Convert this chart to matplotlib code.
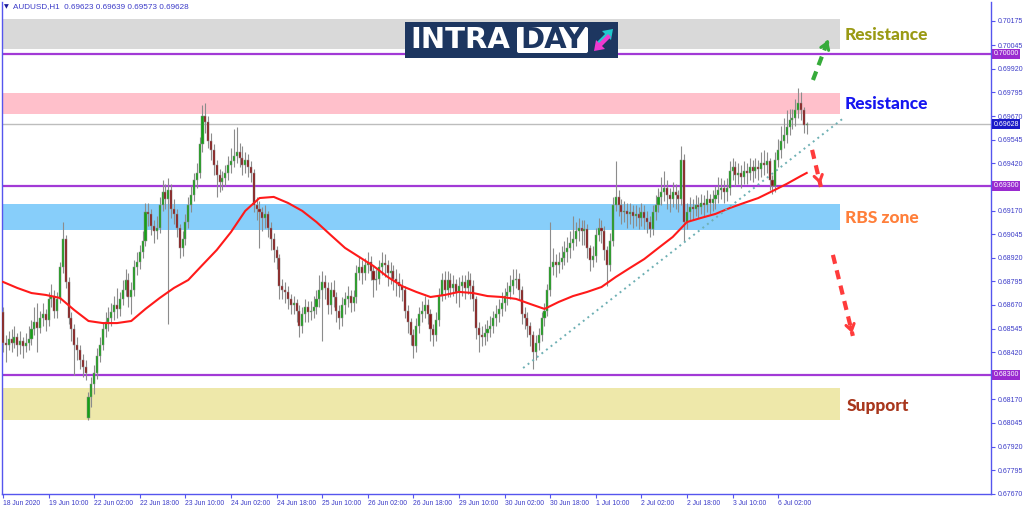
import matplotlib
matplotlib.use('Agg')
import matplotlib.pyplot as plt
from matplotlib.patches import Rectangle, FancyBboxPatch, Polygon
import numpy as np

# ---------------- data ----------------
closes = [
0.6847, 0.6846, 0.6849, 0.6847, 0.6850, 0.6846, 0.6848, 0.6845, 0.6847, 0.6849,
0.6854, 0.6858, 0.6855, 0.6860, 0.6862, 0.6859, 0.6870, 0.6872, 0.6864, 0.6870,
0.6887, 0.6902, 0.6879, 0.6860, 0.6854, 0.6846, 0.6843, 0.6838, 0.6834, 0.6831,
0.6818, 0.6825, 0.6831, 0.6840, 0.6846, 0.6854, 0.6858, 0.6860, 0.6863, 0.6867,
0.6865, 0.6870, 0.6875, 0.6880, 0.6871, 0.6875, 0.6887, 0.6890, 0.6895, 0.6901,
0.6916, 0.6915, 0.6909, 0.6906, 0.6908, 0.6920, 0.6927, 0.6923, 0.6928, 0.6918,
0.6915, 0.6908, 0.6897, 0.6902, 0.6911, 0.6920, 0.6925, 0.6933, 0.6937, 0.6952,
0.6967, 0.6964, 0.6954, 0.6949, 0.6941, 0.6936, 0.6932, 0.6934, 0.6937, 0.6941,
0.6943, 0.6946, 0.6948, 0.6945, 0.6941, 0.6944, 0.6940, 0.6937, 0.6920, 0.6918,
0.6916, 0.6913, 0.6915, 0.6908, 0.6902, 0.6896, 0.6892, 0.6877, 0.6875, 0.6874,
0.6870, 0.6867, 0.6868, 0.6864, 0.6856, 0.6862, 0.6866, 0.6863, 0.6864, 0.6866,
0.6870, 0.6875, 0.6879, 0.6876, 0.6867, 0.6875, 0.6871, 0.6864, 0.6860, 0.6867,
0.6870, 0.6872, 0.6868, 0.6871, 0.6884, 0.6887, 0.6884, 0.6888, 0.6890, 0.6885,
0.6880, 0.6881, 0.6887, 0.6889, 0.6888, 0.6884, 0.6885, 0.6881, 0.6879, 0.6877,
0.6875, 0.6864, 0.6858, 0.6851, 0.6845, 0.6856, 0.6862, 0.6864, 0.6867, 0.6862,
0.6854, 0.6851, 0.6859, 0.6872, 0.6880, 0.6875, 0.6880, 0.6876, 0.6878, 0.6874,
0.6877, 0.6879, 0.6876, 0.6880, 0.6877, 0.6870, 0.6855, 0.6851, 0.6850, 0.6852,
0.6854, 0.6856, 0.6860, 0.6862, 0.6865, 0.6868, 0.6872, 0.6874, 0.6877, 0.6880,
0.6881, 0.6875, 0.6862, 0.6860, 0.6856, 0.6851, 0.6842, 0.6847, 0.6851, 0.6860,
0.6864, 0.6875, 0.6887, 0.6890, 0.6888, 0.6890, 0.6892, 0.6895, 0.6897, 0.6900,
0.6902, 0.6906, 0.6908, 0.6906, 0.6907, 0.6897, 0.6891, 0.6893, 0.6904, 0.6908,
0.6906, 0.6896, 0.6888, 0.6901, 0.6920, 0.6924, 0.6920, 0.6916, 0.6917, 0.6915,
0.6916, 0.6914, 0.6915, 0.6913, 0.6916, 0.6913, 0.6911, 0.6907, 0.6916, 0.6920,
0.6924, 0.6927, 0.6929, 0.6925, 0.6923, 0.6927, 0.6925, 0.6923, 0.6944, 0.6911,
0.6916, 0.6919, 0.6918, 0.6920, 0.6919, 0.6921, 0.6920, 0.6923, 0.6921, 0.6923,
0.6925, 0.6928, 0.6929, 0.6927, 0.6929, 0.6938, 0.6940, 0.6936, 0.6937, 0.6935,
0.6938, 0.6937, 0.6940, 0.6938, 0.6940, 0.6939, 0.6942, 0.6941, 0.6943, 0.6933,
0.6930, 0.6944, 0.6949, 0.6954, 0.6957, 0.6961, 0.6965, 0.6966, 0.6970, 0.6974,
0.6970, 0.69623, 0.69628]

highs = [
0.6866, 0.6851, 0.6853, 0.6854, 0.6856, 0.6852, 0.6853, 0.6850, 0.6852, 0.6856,
0.6859, 0.6866, 0.6868, 0.6864, 0.6868, 0.6865, 0.6874, 0.6878, 0.6875, 0.6874,
0.6890, 0.6911, 0.6904, 0.6882, 0.6863, 0.6857, 0.6850, 0.6846, 0.6841, 0.6838,
0.6821, 0.6829, 0.6835, 0.6844, 0.6850, 0.6858, 0.6863, 0.6866, 0.6868, 0.6872,
0.6876, 0.6874, 0.6880, 0.6886, 0.6884, 0.6879, 0.6891, 0.6895, 0.6899, 0.6906,
0.6921, 0.6921, 0.6918, 0.6912, 0.6914, 0.6924, 0.6933, 0.6931, 0.6934, 0.6931,
0.6923, 0.6918, 0.6910, 0.6906, 0.6915, 0.6924, 0.6930, 0.6937, 0.6942, 0.6956,
0.6973, 0.6974, 0.6967, 0.6958, 0.6952, 0.6944, 0.6939, 0.6938, 0.6941, 0.6946,
0.6950, 0.6960, 0.6961, 0.6953, 0.6951, 0.6948, 0.6947, 0.6943, 0.6939, 0.6924,
0.6922, 0.6919, 0.6920, 0.6917, 0.6911, 0.6905, 0.6898, 0.6894, 0.6881, 0.6879,
0.6877, 0.6873, 0.6872, 0.6870, 0.6867, 0.6866, 0.6870, 0.6869, 0.6869, 0.6872,
0.6875, 0.6883, 0.6885, 0.6883, 0.6879, 0.6879, 0.6880, 0.6874, 0.6867, 0.6871,
0.6874, 0.6877, 0.6875, 0.6875, 0.6888, 0.6893, 0.6891, 0.6892, 0.6895, 0.6893,
0.6888, 0.6886, 0.6891, 0.6895, 0.6894, 0.6891, 0.6890, 0.6888, 0.6886, 0.6884,
0.6881, 0.6877, 0.6867, 0.6860, 0.6854, 0.6860, 0.6866, 0.6869, 0.6872, 0.6870,
0.6865, 0.6857, 0.6863, 0.6876, 0.6884, 0.6885, 0.6885, 0.6884, 0.6883, 0.6881,
0.6882, 0.6883, 0.6883, 0.6885, 0.6884, 0.6880, 0.6872, 0.6858, 0.6856, 0.6857,
0.6859, 0.6861, 0.6864, 0.6867, 0.6870, 0.6874, 0.6876, 0.6879, 0.6883, 0.6886,
0.6886, 0.6884, 0.6877, 0.6866, 0.6863, 0.6858, 0.6853, 0.6851, 0.6855, 0.6863,
0.6868, 0.6878, 0.6911, 0.6897, 0.6894, 0.6895, 0.6898, 0.6901, 0.6903, 0.6906,
0.6914, 0.6911, 0.6913, 0.6912, 0.6912, 0.6910, 0.6899, 0.6898, 0.6908, 0.6913,
0.6912, 0.6909, 0.6898, 0.6905, 0.6924, 0.6943, 0.6928, 0.6923, 0.6922, 0.6921,
0.6921, 0.6920, 0.6920, 0.6919, 0.6921, 0.6920, 0.6917, 0.6914, 0.6920, 0.6925,
0.6929, 0.6935, 0.6938, 0.6933, 0.6929, 0.6932, 0.6931, 0.6928, 0.6951, 0.6947,
0.6921, 0.6924, 0.6923, 0.6925, 0.6924, 0.6926, 0.6925, 0.6928, 0.6926, 0.6928,
0.6930, 0.6935, 0.6934, 0.6933, 0.6934, 0.6943, 0.6945, 0.6943, 0.6942, 0.6941,
0.6943, 0.6942, 0.6945, 0.6944, 0.6945, 0.6944, 0.6948, 0.6949, 0.6948, 0.6945,
0.6936, 0.6948, 0.6955, 0.6962, 0.6966, 0.6970, 0.6971, 0.6971, 0.6976, 0.6982,
0.6980, 0.6972, 0.69639]

lows = [
0.6842, 0.6837, 0.6843, 0.6842, 0.6844, 0.6840, 0.6841, 0.6839, 0.6842, 0.6843,
0.6846, 0.6851, 0.6842, 0.6852, 0.6856, 0.6853, 0.6856, 0.6866, 0.6860, 0.6860,
0.6868, 0.6884, 0.6876, 0.6857, 0.6848, 0.6830, 0.6838, 0.6833, 0.6829, 0.6827,
0.6806, 0.6813, 0.6820, 0.6828, 0.6837, 0.6843, 0.6850, 0.6853, 0.6856, 0.6859,
0.6860, 0.6861, 0.6867, 0.6872, 0.6866, 0.6862, 0.6872, 0.6883, 0.6886, 0.6892,
0.6898, 0.6909, 0.6904, 0.6900, 0.6902, 0.6905, 0.6917, 0.6918, 0.6857, 0.6913,
0.6910, 0.6903, 0.6892, 0.6893, 0.6899, 0.6908, 0.6916, 0.6922, 0.6929, 0.6934,
0.6948, 0.6958, 0.6950, 0.6944, 0.6936, 0.6924, 0.6927, 0.6928, 0.6930, 0.6933,
0.6937, 0.6940, 0.6942, 0.6940, 0.6936, 0.6937, 0.6935, 0.6932, 0.6916, 0.6912,
0.6897, 0.6906, 0.6908, 0.6903, 0.6896, 0.6890, 0.6886, 0.6870, 0.6870, 0.6868,
0.6865, 0.6862, 0.6862, 0.6858, 0.6850, 0.6852, 0.6858, 0.6858, 0.6859, 0.6860,
0.6862, 0.6866, 0.6848, 0.6870, 0.6862, 0.6862, 0.6866, 0.6858, 0.6854, 0.6856,
0.6862, 0.6866, 0.6863, 0.6864, 0.6868, 0.6880, 0.6878, 0.6880, 0.6884, 0.6880,
0.6871, 0.6875, 0.6878, 0.6883, 0.6882, 0.6877, 0.6878, 0.6875, 0.6872, 0.6871,
0.6869, 0.6860, 0.6852, 0.6846, 0.6839, 0.6842, 0.6852, 0.6858, 0.6860, 0.6857,
0.6848, 0.6845, 0.6848, 0.6856, 0.6869, 0.6870, 0.6871, 0.6871, 0.6872, 0.6868,
0.6866, 0.6872, 0.6870, 0.6873, 0.6870, 0.6864, 0.6849, 0.6842, 0.6845, 0.6846,
0.6848, 0.6850, 0.6852, 0.6856, 0.6858, 0.6861, 0.6864, 0.6867, 0.6870, 0.6873,
0.6876, 0.6870, 0.6857, 0.6854, 0.6850, 0.6845, 0.6833, 0.6838, 0.6843, 0.6848,
0.6856, 0.6861, 0.6872, 0.6883, 0.6882, 0.6884, 0.6886, 0.6888, 0.6890, 0.6892,
0.6896, 0.6898, 0.6901, 0.6899, 0.6899, 0.6892, 0.6885, 0.6887, 0.6890, 0.6901,
0.6900, 0.6891, 0.6877, 0.6885, 0.6898, 0.6917, 0.6914, 0.6910, 0.6911, 0.6908,
0.6910, 0.6908, 0.6909, 0.6907, 0.6909, 0.6907, 0.6905, 0.6903, 0.6904, 0.6912,
0.6916, 0.6920, 0.6922, 0.6918, 0.6916, 0.6919, 0.6918, 0.6916, 0.6920, 0.6901,
0.6907, 0.6912, 0.6912, 0.6914, 0.6913, 0.6915, 0.6914, 0.6916, 0.6915, 0.6917,
0.6918, 0.6921, 0.6923, 0.6921, 0.6922, 0.6925, 0.6933, 0.6930, 0.6931, 0.6929,
0.6931, 0.6931, 0.6933, 0.6932, 0.6934, 0.6933, 0.6935, 0.6936, 0.6937, 0.6928,
0.6926, 0.6927, 0.6940, 0.6945, 0.6950, 0.6953, 0.6957, 0.6960, 0.6962, 0.6966,
0.6965, 0.6958, 0.69573]

first_open = 0.6863
gap_opens = {30: 0.6807}   # weekend gap open (Mon 22 Jun)

ma_idx = list(range(0, 281, 5)) + [282]
ma_vals = [
0.68792, 0.68760, 0.68733, 0.68723, 0.68707, 0.68643, 0.68585, 0.68574, 0.68574, 0.68585,
0.68649, 0.68707, 0.68760, 0.68802, 0.68882, 0.68961, 0.69056, 0.69168, 0.69236, 0.69242,
0.69210, 0.69168, 0.69109, 0.69040, 0.68972, 0.68924, 0.68876, 0.68818, 0.68770, 0.68739,
0.68712, 0.68723, 0.68739, 0.68733, 0.68717, 0.68712, 0.68702, 0.68675, 0.68649, 0.68686,
0.68717, 0.68739, 0.68765, 0.68818, 0.68866, 0.68913, 0.68972, 0.69030, 0.69109, 0.69131,
0.69152, 0.69183, 0.69210, 0.69236, 0.69273, 0.69311, 0.69353, 0.69369]

xtick_idx = [0, 16, 32, 48, 64, 80, 96, 112, 128, 144, 160, 176, 192, 208, 224, 240, 256, 272]
xtick_labels = ['18 Jun 2020', '19 Jun 10:00', '22 Jun 02:00', '22 Jun 18:00', '23 Jun 10:00',
                '24 Jun 02:00', '24 Jun 18:00', '25 Jun 10:00', '26 Jun 02:00', '26 Jun 18:00',
                '29 Jun 10:00', '30 Jun 02:00', '30 Jun 18:00', '1 Jul 10:00', '2 Jul 02:00',
                '2 Jul 18:00', '3 Jul 10:00', '6 Jul 02:00']
ytick_vals = [0.70175, 0.70045, 0.69920, 0.69795, 0.69670, 0.69545, 0.69420, 0.69170, 0.69045,
              0.68920, 0.68795, 0.68670, 0.68545, 0.68420, 0.68170, 0.68045, 0.67920, 0.67795, 0.67670]
level_lines = [0.70000, 0.69300, 0.68300]
current_price = 0.69628
zone_bottoms = [0.70026, 0.69681, 0.69067, 0.68061]
zone_tops = [0.70184, 0.69790, 0.69207, 0.68230]
zone_colors = ['#d9d9d9', '#ffc0cb', '#87cefa', '#eee8aa']
zone_end_idx = 293.7
trend_x = [182.5, 295.4]
trend_y = [0.68336, 0.69665]
header = 'AUDUSD,H1  0.69623 0.69639 0.69573 0.69628'

# ---------------- figure ----------------
W, H = 1024, 511
fig = plt.figure(figsize=(W / 100, H / 100), dpi=100)
fig.patch.set_facecolor('white')
L, R, T, B = 2, 991, 2, 494
ax = fig.add_axes([L / W, (H - B) / H, (R - L) / W, (B - T) / H])
ax.set_facecolor('white')
ax.set_xlim(-0.35, 346.67)
ax.set_ylim(0.67669, 0.70274)

axis_blue = '#5555ee'
label_blue = '#3b3bc8'
for s in ['left', 'bottom', 'right']:
    ax.spines[s].set_color(axis_blue)
    ax.spines[s].set_linewidth(1.0)
ax.spines['top'].set_visible(False)

# zones
for lo, hi, col in zip(zone_bottoms, zone_tops, zone_colors):
    ax.add_patch(Rectangle((-0.35, lo), zone_end_idx + 0.35, hi - lo, facecolor=col,
                           edgecolor='none', zorder=1))

# level lines
for lv in level_lines:
    ax.axhline(lv, color='#a23ad6', lw=1.6, zorder=2)
ax.axhline(current_price, color='#bdbdbd', lw=1.0, zorder=2)

# candles
n = len(closes)
idx = np.arange(n)
opens = [first_open] + closes[:-1]
for k, v in gap_opens.items():
    opens[k] = v
o = np.array(opens)
c = np.array(closes)
hi_ = np.array(highs)
lo_ = np.array(lows)
up = c >= o
ax.vlines(idx, lo_, hi_, color='#8c8c8c', lw=0.8, zorder=3)
body_h = np.maximum(np.abs(c - o), 0.00003)
ax.bar(idx, body_h, bottom=np.minimum(o, c), width=0.72,
       color=np.where(up, '#16a016', '#8b1414'), edgecolor='#8c8c8c', linewidth=0.35, zorder=4)

# moving average
ax.plot(ma_idx, ma_vals, color='#ff1a1a', lw=1.5, zorder=5)

# trend line
ax.plot(trend_x, trend_y, color='#6fb0b4', lw=1.4, ls=(0, (1, 2)), zorder=5)

# arrows (dashed shaft + head)
def dashed_arrow(x0, y0, x1, y1, col):
    ax.plot([x0, x1], [y0, y1], color=col, lw=3, ls=(0, (2.2, 1.6)), solid_capstyle='butt', zorder=6)
    ax.annotate('', xy=(x1, y1), xytext=(x0 + (x1 - x0) * 0.85, y0 + (y1 - y0) * 0.85),
                arrowprops=dict(arrowstyle='->,head_length=0.45,head_width=0.3', color=col, lw=2.2),
                zorder=6)

dashed_arrow(284.2, 0.69861, 289.8, 0.70084, '#36ab3a')
dashed_arrow(283.9, 0.69491, 287.0, 0.69295, '#ff3b3b')
dashed_arrow(291.2, 0.68935, 298.2, 0.68506, '#ff3b3b')

# zone labels
lab_font = dict(family=['Lato', 'DejaVu Sans'], fontweight='black', fontsize=12.5, va='center', ha='left', zorder=7)
ax.text(295.4, 0.70100, 'Resistance', color='#9a9a14', **lab_font)
ax.text(295.4, 0.69734, 'Resistance', color='#1515f0', **lab_font)
ax.text(295.4, 0.69130, 'RBS zone', color='#ff7f3a', **lab_font)
ax.text(296.1, 0.68135, 'Support', color='#a8361c', **lab_font)

# axes ticks
tick_font = ['Liberation Sans', 'DejaVu Sans']
ax.yaxis.tick_right()
ax.set_yticks(ytick_vals)
ax.set_yticklabels(['%.5f' % v for v in ytick_vals])
ax.set_xticks(xtick_idx)
ax.set_xticklabels(xtick_labels)
ax.tick_params(axis='y', colors=axis_blue, length=3, width=0.8, pad=1.5, labelsize=5.0, labelcolor=label_blue)
ax.tick_params(axis='x', colors=axis_blue, length=3, width=0.8, pad=1.5, labelsize=4.9, labelcolor=label_blue)
for t in ax.get_yticklabels() + ax.get_xticklabels():
    t.set_family(tick_font)
for t in ax.get_xticklabels():
    t.set_ha('left')

# highlighted price labels
ytr = ax.get_yaxis_transform()
for lv in level_lines:
    ax.text(1.0025, lv, '%.5f' % lv, transform=ytr, fontsize=5.0, family=tick_font, color='white',
            va='center', ha='left', clip_on=False, zorder=8,
            bbox=dict(boxstyle='square,pad=0.2', fc='#9a2bd0', ec='none'))
ax.text(1.0025, current_price, '%.5f' % current_price, transform=ytr, fontsize=5.0, family=tick_font,
        color='white', va='center', ha='left', clip_on=False, zorder=8,
        bbox=dict(boxstyle='square,pad=0.2', fc='#1a1ac8', ec='none'))

# header
fig.text(4 / W, 1 - 7 / H, '\u25bc', fontsize=4.5, color='#1a1a9a', family=['DejaVu Sans'], va='center', ha='left')
fig.text(13 / W, 1 - 7 / H, header, fontsize=5.9, color=label_blue, family=tick_font, va='center', ha='left')

# logo
lax = fig.add_axes([405 / W, (H - 58) / H, 213 / W, 36 / H])
lax.set_xlim(0, 213)
lax.set_ylim(0, 36)
lax.axis('off')
lax.add_patch(Rectangle((0, 0), 213, 36, facecolor='#1d3660', edgecolor='none'))
lax.add_patch(FancyBboxPatch((112, 5), 71, 26, boxstyle='round,pad=0,rounding_size=2',
                             facecolor='white', edgecolor='none'))
lax.text(5, 17.5, 'INTRA', color='white', fontsize=21, fontweight='bold', family=['DejaVu Sans'],
         va='center', ha='left')
lax.text(147.5, 17.5, 'DAY', color='#1d3660', fontsize=21, fontweight='bold', family=['DejaVu Sans'],
         va='center', ha='center')
lax.add_patch(Polygon([[191, 15], [200, 24], [197, 27], [208, 29], [206, 18], [203, 21], [194, 12]],
                      closed=True, facecolor='#20c8cc', edgecolor='none'))
lax.add_patch(Polygon([[206, 21], [197, 12], [200, 9], [189, 7], [191, 18], [194, 15], [203, 24]],
                      closed=True, facecolor='#ee3ad0', edgecolor='none'))

fig.savefig('out.png', dpi=100, facecolor='white')
